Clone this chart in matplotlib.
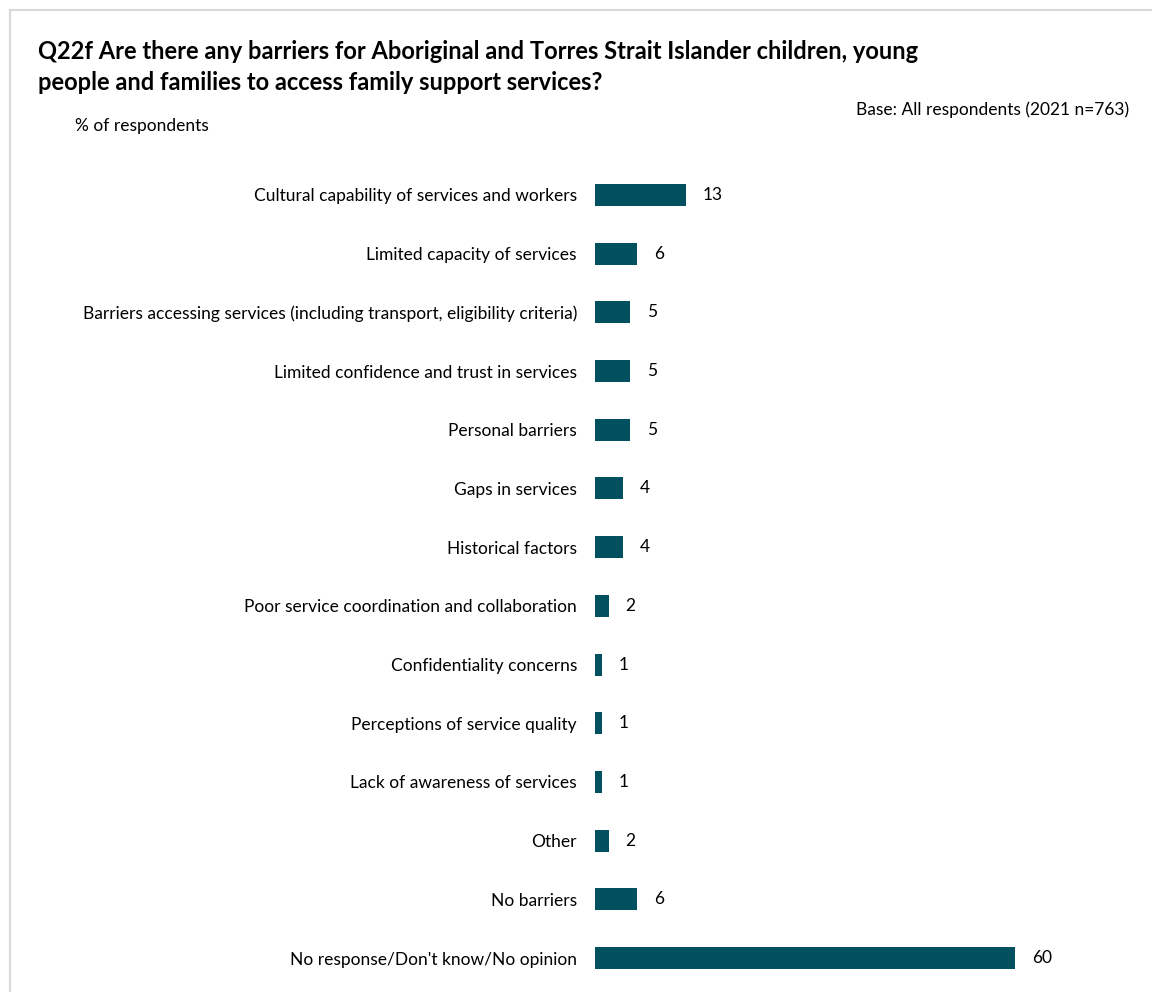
import matplotlib
matplotlib.use('Agg')
import matplotlib.pyplot as plt
from matplotlib.lines import Line2D

plt.rcParams['font.family'] = ['Lato', 'DejaVu Sans']

# data
categories = [
    'Cultural capability of services and workers',
    'Limited capacity of services',
    'Barriers accessing services (including transport, eligibility criteria)',
    'Limited confidence and trust in services',
    'Personal barriers',
    'Gaps in services',
    'Historical factors',
    'Poor service coordination and collaboration',
    'Confidentiality concerns',
    'Perceptions of service quality',
    'Lack of awareness of services',
    'Other',
    'No barriers',
    "No response/Don't know/No opinion",
]
values = [13, 6, 5, 5, 5, 4, 4, 2, 1, 1, 1, 2, 6, 60]

bar_color = '#00505F'
W, H = 1152, 992

fig = plt.figure(figsize=(W / 100, H / 100), dpi=100)

# axes placed in pixel terms: bars start at x=595, 7 px per percent
ax_left, ax_w = 595, 490
ax_top, ax_bot = 165.6, 987.4
ax = fig.add_axes([ax_left / W, 1 - ax_bot / H, ax_w / W, (ax_bot - ax_top) / H])

ypos = list(range(len(categories)))
ax.barh(ypos, values, height=0.375, color=bar_color)
ax.set_xlim(0, 70)
ax.set_ylim(len(categories) - 0.5, -0.5)
ax.set_yticks(ypos)
ax.set_yticklabels(categories, fontsize=12.5, color='#000000')
ax.tick_params(axis='y', length=0, pad=13)
ax.set_xticks([])
for s in ax.spines.values():
    s.set_visible(False)

for y, v in zip(ypos, values):
    ax.annotate(str(v), (v, y), xytext=(12, 0), textcoords='offset points',
                va='center', ha='left', fontsize=12.5, color='#000000')

# title and notes
fig.text(38 / W, 1 - 67 / H,
         'Q22f Are there any barriers for Aboriginal and Torres Strait Islander children, young\n'
         'people and families to access family support services?',
         fontsize=17, fontweight='bold', va='center', ha='left', linespacing=1.4)
fig.text(75 / W, 1 - 126 / H, '% of respondents', fontsize=12.5, va='center', ha='left')
fig.text(1129 / W, 1 - 110 / H, 'Base: All respondents (2021 n=763)', fontsize=12.5,
         va='center', ha='right')

# light frame at top and left
fig.add_artist(Line2D([10 / W, 10 / W], [0, 1 - 10 / H], color='#D9D9D9', lw=1.5,
                      transform=fig.transFigure))
fig.add_artist(Line2D([10 / W, 1], [1 - 10 / H, 1 - 10 / H], color='#D9D9D9', lw=1.5,
                      transform=fig.transFigure))

fig.savefig('out.png', dpi=100)
